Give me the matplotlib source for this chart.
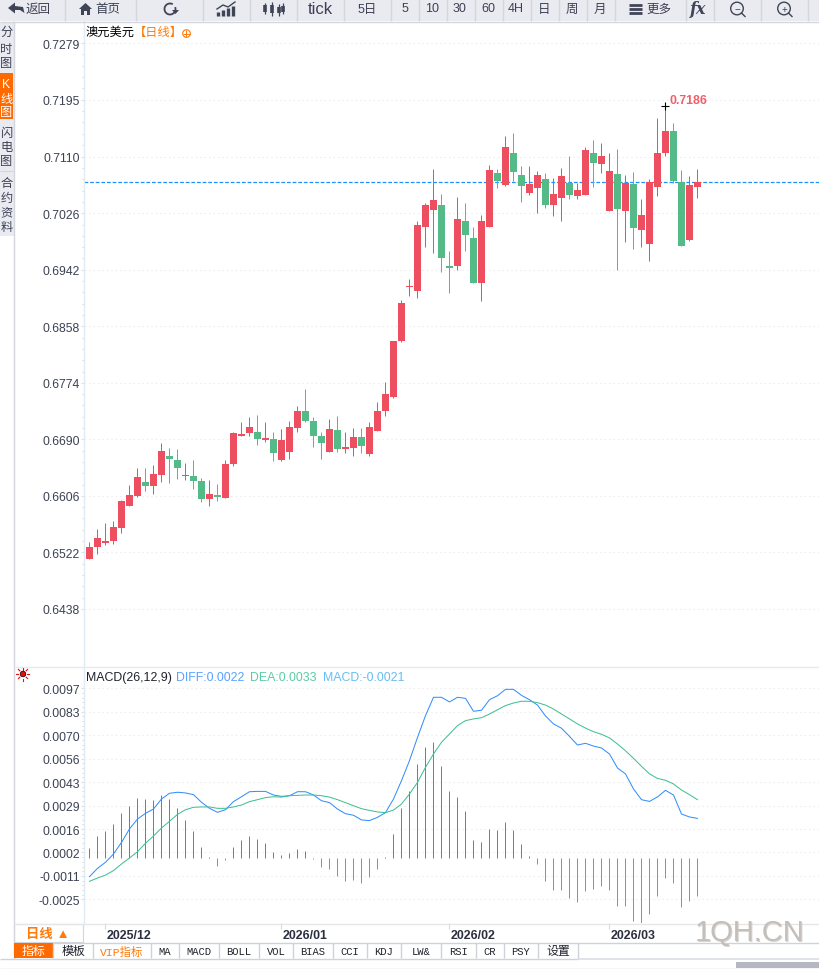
import matplotlib
matplotlib.use('Agg')
import matplotlib.pyplot as plt
import numpy as np
from matplotlib.patches import Rectangle, Circle, Polygon, Arc

plt.rcParams['font.family'] = ['Liberation Sans', 'Noto Sans CJK SC', 'DejaVu Sans']

# daily candles
opens = [.65122, .65301, .65360, .65390, .65583, .65910, .66059, .66267, .66207, .66371, .66653, .66593, .66356, .66356, .66281, .66014, .66073, .66029, .66534, .66950, .66995, .67009, .66891, .66905, .66593, .66712, .67069, .67322, .67173, .66950, .66712, .67039, .66757, .66772, .66935, .66683, .67024, .67322, .67530, .68362, .69164, .69105, .70056, .70309, .70383, .69476, .69476, .70145, .69892, .69224, .70056, .70858, .70680, .71156, .70829, .70561, .70635, .70769, .70383, .70487, .70710, .70517, .70531, .71156, .70992, .70294, .70843, .70294, .70695, .70011, .69803, .70650, .71156, .71482, .70725, .69863, .70650]
highs = [.65370, .65568, .65657, .65687, .65999, .66222, .66475, .66475, .66519, .66846, .66772, .66757, .66549, .66593, .66326, .66296, .66237, .66593, .67009, .67158, .67232, .67262, .67158, .67009, .67054, .67173, .67396, .67648, .67232, .67009, .67203, .67247, .67009, .67069, .67069, .67158, .67455, .67752, .68362, .68971, .69283, .70145, .70413, .70918, .70546, .69699, .70502, .70413, .70056, .70234, .70977, .70918, .71408, .71453, .70962, .70962, .70888, .70858, .70784, .70933, .71111, .70710, .71245, .71349, .71304, .71156, .71215, .70829, .70873, .70472, .70769, .71676, .71854, .71601, .70903, .70814, .70918]
lows = [.65122, .65197, .65330, .65345, .65509, .65910, .66044, .66133, .66088, .66267, .66252, .66311, .66296, .66163, .65969, .65910, .65984, .66029, .66504, .66950, .66950, .66816, .66861, .66579, .66579, .66608, .67009, .67158, .66787, .66608, .66712, .66712, .66697, .66653, .66697, .66653, .67024, .67247, .67515, .68347, .69031, .69001, .69759, .69670, .69387, .69075, .69417, .69699, .69224, .68956, .70056, .70635, .70665, .70739, .70427, .70531, .70264, .70338, .70219, .70145, .70472, .70472, .70531, .70650, .70858, .70294, .69417, .69833, .69729, .69759, .69551, .70517, .71111, .70710, .69774, .69848, .70487]
closes = [.65301, .65434, .65390, .65598, .65984, .66073, .66341, .66207, .66385, .66727, .66608, .66475, .66371, .66281, .66014, .66088, .66044, .66534, .66995, .66980, .67084, .66905, .66920, .66697, .66891, .67084, .67322, .67173, .66950, .66846, .67054, .66757, .66787, .66935, .66801, .67084, .67322, .67574, .68362, .68927, .69179, .70086, .70383, .70457, .69595, .69447, .70175, .69937, .69224, .70145, .70903, .70739, .71245, .70873, .70665, .70695, .70829, .70383, .70546, .70814, .70531, .70606, .71200, .71007, .71111, .70888, .70323, .70710, .70041, .70234, .70725, .71156, .71482, .70739, .69774, .70680, .70725]
last_price = 0.7073
peak_label = '0.7186'
peak_index = 72

diff = [-.00119, -.00071, -.00036, .00012, .00079, .00157, .00214, .00247, .00272, .0033, .00363, .00369, .00365, .00355, .00311, .00276, .00253, .00268, .00315, .00343, .00372, .00374, .00374, .00353, .00345, .00349, .00372, .00372, .00353, .0032, .00309, .00272, .00245, .00236, .00209, .00205, .00224, .00251, .0033, .00436, .00552, .00686, .00812, .00918, .00918, .00891, .00918, .00912, .00837, .00843, .00904, .00927, .00964, .00964, .00929, .00904, .00873, .0081, .00764, .00739, .00692, .00642, .00652, .00636, .00625, .0059, .00509, .00475, .00388, .00326, .00316, .00342, .0038, .00353, .00243, .00226, .00218]
dea = [-.00146, -.00127, -.0011, -.00084, -.00046, -.00011, .00025, .00074, .00116, .00162, .00201, .00241, .00268, .00282, .00284, .00284, .00276, .00276, .00284, .00295, .00315, .00326, .00338, .00343, .00341, .00349, .00351, .00353, .00353, .00349, .00341, .00326, .00309, .00291, .00274, .00264, .00255, .00251, .00266, .00301, .00359, .00426, .00513, .0059, .00658, .00706, .00754, .00783, .00793, .008, .00821, .00846, .0087, .00885, .00895, .00895, .00887, .00873, .0085, .00821, .00793, .00764, .0074, .00719, .00704, .00683, .00648, .00609, .00565, .00519, .00475, .00449, .00438, .00417, .00382, .00355, .00326]
hist = [.00055, .00124, .00153, .00194, .00257, .00298, .00344, .00338, .00332, .00361, .00338, .00286, .00217, .00153, .00061, .00003, -.00047, -.00014, .00061, .00101, .00124, .00107, .00084, .00032, .00014, .00026, .00049, .00038, -.00009, -.00055, -.00066, -.00107, -.00136, -.0013, -.00147, -.00113, -.00066, .00003, .00136, .00286, .00384, .00541, .00639, .00668, .00529, .00384, .0035, .00269, .00101, .0009, .00165, .00159, .00205, .00159, .00078, .00009, -.00038, -.00136, -.00188, -.00188, -.00234, -.00257, -.00194, -.00182, -.00165, -.00188, -.0028, -.0028, -.00367, -.00379, -.00327, -.00223, -.00119, -.00147, -.00286, -.00252, -.00223]

price_labels = ['0.7279', '0.7195', '0.7110', '0.7026', '0.6942', '0.6858', '0.6774', '0.6690', '0.6606', '0.6522', '0.6438']
macd_ticks = [.0097, .00834, .00699, .00563, .00428, .00292, .00156, .00021, -.00115, -.0025]
macd_labels = ['0.0097', '0.0083', '0.0070', '0.0056', '0.0043', '0.0029', '0.0016', '0.0002', '-0.0011', '-0.0025']
date_index = [2, 24, 45, 65]
date_labels = ['2025/12', '2026/01', '2026/02', '2026/03']

RED = '#ee4f60'
GREEN = '#53ba88'
TICK_TEXT = '#3c4154'
GRID = '#eeeeee'
BAR_BG = '#e9ebf1'
LINE = '#d5d8de'
ORANGE = '#ff7a0a'

W, H = 820, 970
fig = plt.figure(figsize=(W / 100, H / 100), dpi=100, facecolor='white')


def px_axes(left, top, right, bottom, **kw):
    return fig.add_axes([left / W, 1 - bottom / H, (right - left) / W, (bottom - top) / H], **kw)


def style_pane(ax, ticks, labels):
    for side in ('top', 'right', 'bottom'):
        ax.spines[side].set_visible(False)
    ax.spines['left'].set_color('#e0ebf3')
    ax.spines['left'].set_linewidth(1)
    ax.set_yticks(ticks)
    ax.set_yticklabels(labels, fontsize=8.8, color=TICK_TEXT)
    ax.tick_params(axis='y', which='major', length=2.5, width=0.8, color='#cfe6f5', pad=1)
    ax.tick_params(axis='y', which='minor', length=1.2, width=0.7, color='#d8d8d8')
    ax.set_yticks(np.concatenate([np.linspace(a, b, 6)[1:-1] for a, b in zip(ticks[:-1], ticks[1:])]), minor=True)
    ax.grid(axis='y', which='major', color=GRID, linestyle=(0, (1.5, 2.5)), linewidth=0.8)
    ax.set_axisbelow(True)


# x: candle i sits at 89.5 + 8 * i pixels
def x_limits(left, right):
    return (left - 89.5) / 8, (right - 89.5) / 8


idx = np.arange(len(closes))
o, h, l, c = map(np.array, (opens, highs, lows, closes))
colors = [RED if c[i] >= o[i] else GREEN for i in idx]

# price pane
ax = px_axes(84.5, 22, 820, 667)
ax.set_xlim(*x_limits(84.5, 820))
ax.set_ylim(0.63532, 0.73117)
ax.set_xticks([])
style_pane(ax, [float(s) for s in price_labels], price_labels)
ax.axhline(last_price, color='#1e8fff', linewidth=0.9, linestyle=(0, (3, 1.5)), zorder=1.5)
ax.vlines(idx, l, h, colors=colors, linewidth=0.72, zorder=3)
bottoms = np.minimum(o, c)
heights = np.maximum(np.abs(c - o), 0.00014)
ax.bar(idx, heights, bottom=bottoms, width=7 / 8, color=colors, linewidth=0, zorder=3)
ax.plot([peak_index], [h[peak_index]], marker='+', color='black', markersize=6, markeredgewidth=0.8, zorder=4)
ax.annotate(peak_label, xy=(peak_index, h[peak_index]), xytext=(3, 0), textcoords='offset points',
            fontsize=8.9, color='#f0606a', fontweight='bold', va='bottom', ha='left')

# macd pane
ax2 = px_axes(84.5, 667, 820, 924)
ax2.set_xlim(*x_limits(84.5, 820))
ax2.set_ylim(-0.00387, 0.010989)
style_pane(ax2, macd_ticks, macd_labels)
bar_base = -0.0001
ax2.vlines(idx, bar_base, bar_base + np.array(hist), colors=['#e2505f' if v >= 0 else '#5bb08a' for v in hist], linewidth=0.72, zorder=2)
ax2.plot(idx, diff, color='#2d8cff', linewidth=0.72, zorder=3)
ax2.plot(idx, dea, color='#3dbf8e', linewidth=0.72, zorder=3)
ax2.set_xticks(date_index)
ax2.set_xticklabels([])
ax2.tick_params(axis='x', length=4, width=0.8, color='#d9d9d9', direction='out')
for i, s in zip(date_index, date_labels):
    ax2.annotate(s, xy=(i, 0), xycoords=('data', 'axes fraction'), xytext=(1.0, -9), textcoords='offset points',
                 fontsize=8.9, fontweight='bold', color='#2b2f3f', ha='left', va='center')

# page chrome drawn in pixel coordinates on top
ui = fig.add_axes([0, 0, 1, 1], facecolor='none')
ui.set_xlim(0, W)
ui.set_ylim(H, 0)
ui.axis('off')


def box(x0, y0, x1, y1, fc, ec='none', lw=0, z=1):
    ui.add_patch(Rectangle((x0, y0), x1 - x0, y1 - y0, facecolor=fc, edgecolor=ec, linewidth=lw, zorder=z))


def hline(y, x0, x1, color=LINE, lw=0.8):
    ui.plot([x0, x1], [y, y], color=color, linewidth=lw, solid_capstyle='butt')


def vline(x, y0, y1, color=LINE, lw=0.8):
    ui.plot([x, x], [y0, y1], color=color, linewidth=lw, solid_capstyle='butt')


def label(x, y, s, size=8.8, color=TICK_TEXT, ha='center', **kw):
    ui.text(x, y, s, fontsize=size, color=color, ha=ha, va='center', **kw)


# top toolbar
box(0, 0, W, 22, BAR_BG)
hline(22.5, 0, W, '#d3d6dc', 1)
for x in [65, 136, 203, 250, 297, 344, 391, 419, 447, 475, 503, 531, 559, 587, 615, 686, 714, 761, 808]:
    vline(x, 0, 22, '#d3d6dc', 1)
ICON = '#3f4556'
ui.add_patch(Polygon([(8, 9), (15, 3.5), (15, 7), (23, 8), (24.5, 14), (20, 11), (15, 11), (15, 14.5)], facecolor=ICON, zorder=3))
label(38, 9.5, '返回', 9)
ui.add_patch(Polygon([(79, 10), (85.5, 4), (92, 10), (90, 10), (90, 16), (87, 16), (87, 12), (84, 12), (84, 16), (81, 16), (81, 10)], facecolor=ICON, zorder=3))
label(108, 9.5, '首页', 9)
ui.add_patch(Arc((170, 10), 11, 11, theta1=-20, theta2=300, color=ICON, linewidth=1.3, zorder=3))
ui.add_patch(Polygon([(172, 11), (179, 11), (175.5, 15)], facecolor=ICON, zorder=3))
for x, b in zip([218, 223, 228, 233], [13, 11, 9, 7]):
    vline(x, 17, b + 0.0, ICON, 2.4)
ui.plot([217, 223, 228, 235], [10, 6, 8, 3], color=ICON, linewidth=1)
for x, t, b in zip([265, 272, 279, 283], [4, 3, 5, 4], [15, 17, 17, 15]):
    vline(x, t, b, ICON, 0.9)
for x, t, b in zip([265, 272, 279, 283], [6, 6, 8, 7], [13, 14, 14, 13]):
    vline(x, t, b, ICON, 2.6)
label(320, 9.5, 'tick', 12)
label(367, 9.5, '5日', 9)
for x, s in zip([405, 432, 460, 488, 516, 544, 572], ['5', '10', '30', '60', '4H', '日', '周']):
    label(x, 9.5, s, 9)
label(600, 9.5, '月', 9)
for y in [6, 10, 14]:
    hline(y, 629, 642, ICON, 2)
label(659, 9.5, '更多', 9)
label(698, 9.5, 'fx', 11.5, ICON, fontweight='bold', fontstyle='italic', family='DejaVu Serif')
for x, s in [(737, '−'), (784, '+')]:
    ui.add_patch(Circle((x, 9.5), 6.3, facecolor='none', edgecolor=ICON, linewidth=1, zorder=3))
    ui.plot([x + 4.5, x + 8], [14, 17.5], color=ICON, linewidth=1)
    label(x, 9.5, s, 7, ICON)

# side tabs
box(0, 23, 14, 237, BAR_BG)
box(0, 74, 13, 120, '#ff6a00', z=2)
vline(14, 22, 960, '#d3d6dc', 1)
hline(172, 0, 14, '#d3d6dc', 0.8)
for y, s in zip([33, 50, 64], '分时图'):
    label(6.5, y, s, 8.8)
for y, s, in zip([85, 100, 113], 'K线图'):
    ui.text(6.5, y, s, fontsize=8.8, color='white', ha='center', va='center', zorder=3)
for y, s in zip([134, 148, 162], '闪电图'):
    label(6.5, y, s, 8.8)
for y, s in zip([184, 199, 213, 228], '合约资料'):
    label(6.5, y, s, 8.8)

# pane titles
label(86, 33, '澳元美元', 8.8, 'black', ha='left')
label(134, 33, '【日线】', 8.8, ORANGE, ha='left')
ui.add_patch(Circle((186.5, 34.5), 3.8, facecolor='none', edgecolor=ORANGE, linewidth=0.8))
hline(34.5, 182.7, 190.3, ORANGE, 0.7)
vline(186.5, 30.7, 38.3, ORANGE, 0.7)

hline(667.5, 14, W, '#e9e9e9', 1)
ui.add_patch(Circle((23, 675), 2.8, facecolor='#e01010', edgecolor='black', linewidth=0.5, zorder=3))
for a in np.radians(np.arange(0, 360, 45)):
    ui.plot([23 + 4.5 * np.cos(a), 23 + 6.5 * np.cos(a)], [675 + 4.5 * np.sin(a), 675 + 6.5 * np.sin(a)], color='#e01010', linewidth=0.8)
label(86, 678, 'MACD(26,12,9)', 8.9, '#20222c', ha='left')
label(176, 678, 'DIFF:0.0022', 8.9, '#5aa2ff', ha='left')
label(250, 678, 'DEA:0.0033', 8.9, '#5ccba5', ha='left')
label(323, 678, 'MACD:-0.0021', 8.9, '#68bdf0', ha='left')

# bottom strip
hline(924.5, 14, W, '#e6e6e6', 1)
box(14, 925, 83, 943, 'white', '#d3d6dc', 0.8)
label(48, 935, '日线 ▲', 9.6, ORANGE, fontweight='bold')
hline(943.5, 84, 305, '#eeeeee', 0.8)
ui.text(751, 934, '1QH.CN', fontsize=21, color='#d8d4d0', ha='center', va='center', zorder=5)
ui.text(750, 933, '1QH.CN', fontsize=21, color='#c4bfba', ha='center', va='center', zorder=5)

hline(944, 14, W, '#cfd2d8', 1)
tab_edges = [14, 53, 93, 151, 179, 219, 259, 293, 333, 367, 401, 441, 476, 504, 538, 578]
tab_names = ['指标', '模板', 'VIP指标', 'MA', 'MACD', 'BOLL', 'VOL', 'BIAS', 'CCI', 'KDJ', 'LW&', 'RSI', 'CR', 'PSY', '设置']
tab_sizes = [8.6, 8.6, 8.2, 7.6, 7.6, 7.6, 7.6, 7.6, 7.6, 7.6, 7.6, 7.6, 7.6, 7.6, 8.6]
box(14, 944, 53, 959, '#ff6a00', z=2)
for i, name in enumerate(tab_names):
    x0, x1 = tab_edges[i], tab_edges[i + 1]
    vline(x1, 944, 959, '#cfd2d8', 1)
    col = 'white' if i == 0 else ORANGE if i == 2 else '#20222c'
    ui.text((x0 + x1) / 2, 952, name, fontsize=tab_sizes[i], color=col, ha='center', va='center', zorder=3,
            family=['Liberation Mono', 'Noto Sans CJK SC'])
hline(960, 0, 14, '#cfd2d8', 1)
hline(959.5, 14, 578, '#cfd2d8', 1)
box(578, 959, W, 961, '#dfe2e8')
box(736, 963, W, 969, '#b6b8c1')
hline(969.5, 0, W, '#cfd2d8', 1)

fig.savefig('out.png', dpi=100)
